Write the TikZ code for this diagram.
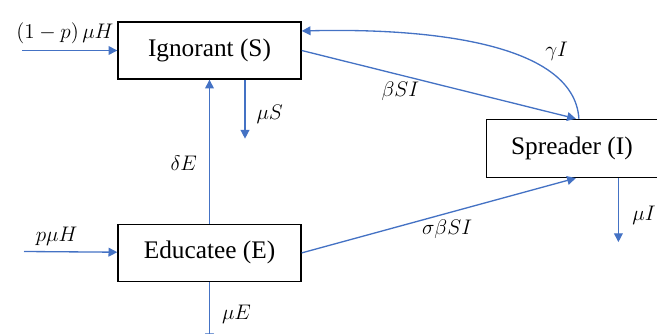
\documentclass[tikz,border=0pt]{standalone}
\usepackage{amsmath}
\usepackage{fontspec}
\setmainfont{Liberation Serif}
\usepackage{tikz}
\usetikzlibrary{arrows.meta,positioning}
\definecolor{flowblue}{HTML}{4472C4}

\begin{document}
\begin{tikzpicture}[
            > = {Triangle[length=5pt,width=5pt]}, % arrow head style
            font = \large,
            compartment/.style = {draw, line width=0.8pt, minimum width=3.66cm,
                                  minimum height=1.14cm, inner sep=0pt, font=\Large},
            rate/.style = {->, draw=flowblue, line width=0.75pt}
        ]
    \useasboundingbox (0,0) rectangle (13.14,-6.68);

    \node[compartment] (S) at (4.19,-1.01) {Ignorant (S)};
    \node[compartment] (E) [below=2.88cm of S] {Educatee (E)};
    \node[compartment, minimum width=3.42cm, minimum height=1.16cm] (I)
        [below right=0.78cm and 3.68cm of S] {Spreader (I)};

    % free ends of the in- and outflows
    \coordinate (inS) at (0.44,-1.01);
    \coordinate (inE) at (0.48,-5.03);
    \coordinate (outS) at ([xshift=0.71cm,yshift=-1.18cm]S.south);
    \coordinate (outE) at ([yshift=-1.2cm]E.south);
    \coordinate (outI) at ([xshift=0.93cm,yshift=-1.28cm]I.south);

    \draw[rate] (inS) -- node[above, pos=0.45] {$(1-p)\,\mu H$} (S);
    \draw[rate] (inE) -- node[above, pos=0.35] {$p\mu H$} (E);
    \draw[rate] (E) -- node[left, pos=0.42, xshift=-0.12cm] {$\delta E$} (S);
    \draw[rate] ([xshift=0.71cm]S.south) -- node[right, pos=0.58, xshift=0.1cm] {$\mu S$} (outS);
    \draw[rate] (E.south) -- node[right, pos=0.53, xshift=0.12cm] {$\mu E$} (outE);
    \draw[rate] ([xshift=0.93cm]I.south) -- node[right, pos=0.58, xshift=0.15cm] {$\mu I$} (outI);

    \draw[rate] (S.east) -- node[below, pos=0.36] {$\beta SI$} ([xshift=0.08cm]I.north);
    \draw[rate] (E.east) -- node[below, pos=0.53] {$\sigma\beta SI$} ([xshift=0.08cm]I.south);
    \draw[rate] ([xshift=0.14cm]I.north)
        .. controls +(-0.1,1.56) and +(2.38,0.06) ..
        node[above right, pos=0.28, xshift=-0.1cm] {$\gamma I$} ([yshift=0.39cm]S.east);

\end{tikzpicture}
\end{document}
